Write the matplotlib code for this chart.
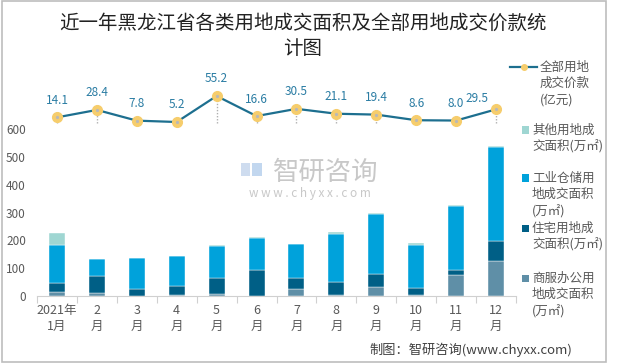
import matplotlib
matplotlib.use("Agg")
import matplotlib.pyplot as plt
import numpy as np
from matplotlib.patches import Rectangle
from matplotlib.lines import Line2D

plt.rcParams['font.family'] = ['Noto Sans CJK SC', 'DejaVu Sans']

# ---- data ----
months = ["2021年\n1月", "2\n月", "3\n月", "4\n月", "5\n月", "6\n月",
          "7\n月", "8\n月", "9\n月", "10\n月", "11\n月", "12\n月"]
price = [14.1, 28.4, 7.8, 5.2, 55.2, 16.6, 30.5, 21.1, 19.4, 8.6, 8.0, 29.5]
commercial = [14, 12, 1, 5, 7, 0, 25, 3, 32, 3, 77, 126]
residential = [32, 59, 24, 30, 58, 95, 40, 49, 47, 27, 18, 72]
industrial = [136, 62, 111, 108, 116, 115, 121, 171, 217, 155, 230, 339]
other = [46, 1, 1, 1, 1, 1, 1, 6, 4, 5, 3, 3]
yticks = [0, 100, 200, 300, 400, 500, 600]

W, H = 620, 364
def fx(px): return px / W
def fy(py): return 1 - py / H

c_other = "#9FD6D2"
c_ind = "#00A2DB"
c_res = "#005F86"
c_com = "#5F8FA7"
c_line = "#1D6F8F"
c_lab = "#2A7CA3"
c_mark = "#F6CD6C"
c_txt = "#595959"

fig = plt.figure(figsize=(W / 100, H / 100), dpi=100)

# border
fig.patches.append(Rectangle((fx(2), fy(362)), fx(606) - fx(2), fy(1) - fy(362),
                             transform=fig.transFigure, fill=False,
                             edgecolor="#BDBDBD", linewidth=1.2))

ax_l, ax_r, ax_t, ax_b = 37, 516, 80, 296
ax = fig.add_axes([fx(ax_l), fy(ax_b), fx(ax_r) - fx(ax_l), fy(ax_t) - fy(ax_b)])
ax.patch.set_alpha(0)

x = np.arange(len(months))
bw = 0.4
com = np.array(commercial, float)
res = np.array(residential, float)
ind = np.array(industrial, float)
oth = np.array(other, float)
kw = dict(width=bw, edgecolor="white", linewidth=0.3, zorder=2)
ax.bar(x, com, color=c_com, **kw)
ax.bar(x, res, bottom=com, color=c_res, **kw)
ax.bar(x, ind, bottom=com + res, color=c_ind, **kw)
ax.bar(x, oth, bottom=com + res + ind, color=c_other, **kw)

ax.set_ylim(0, (ax_b - ax_t) / 0.2778)
ax.set_xlim(-0.5, len(months) - 0.5)
ax.set_yticks(yticks)
ax.set_yticklabels([str(v) for v in yticks], fontsize=8.5, color=c_txt)
ax.tick_params(axis='y', length=0, pad=8)
ax.set_xticks(x)
ax.set_xticklabels(months, fontsize=9, color=c_txt, linespacing=1.25)
ax.tick_params(axis='x', length=0, pad=6)
ax.set_xticks(np.arange(-0.5, len(months), 1.0), minor=True)
ax.tick_params(axis='x', which='minor', length=5, color="#D0D0D0", width=0.8)
for s in ["left", "right", "top"]:
    ax.spines[s].set_visible(False)
ax.spines["bottom"].set_color("#D0D0D0")
ax.spines["bottom"].set_linewidth(0.8)

# secondary axis for price line
ax2 = ax.twinx()
ax2.set_position(ax.get_position())
a = 0.52
zero_px = 124.7
ax2.set_ylim(-(ax_b - zero_px) / a, (zero_px - ax_t) / a)
ax2.axis("off")
ax2.vlines(x, 2.7, price, colors="#B0B0B0", linestyles=(0, (1, 1.2)),
           linewidth=1.0, zorder=2)
ax2.plot(x, price, color=c_line, linewidth=1.6, zorder=3, clip_on=False)
ax2.plot(x, price, linestyle="none", marker="o", markersize=7,
         markerfacecolor=c_mark, markeredgecolor=c_mark, zorder=4, clip_on=False)
ax2.plot(x, price, linestyle="none", marker="o", markersize=1.3,
         markerfacecolor="#B8B8B8", markeredgecolor="#B8B8B8", zorder=5, clip_on=False)
offsets = [(0, 17)] * 11 + [(-19, 11)]
for xi, v, off in zip(x, price, offsets):
    ax2.annotate(f"{v:.1f}", (xi, v), xytext=off, textcoords="offset pixels",
                 ha="center", va="center", fontsize=8.5, color=c_lab,
                 annotation_clip=False)

# title
fig.text(fx(303), fy(23), "近一年黑龙江省各类用地成交面积及全部用地成交价款统",
         ha="center", va="center", fontsize=14, color="#222222")
fig.text(fx(303), fy(48), "计图", ha="center", va="center", fontsize=14, color="#222222")

# legend (manual)
lx_text = 532
fig.lines.append(Line2D([fx(510), fx(537)], [fy(67), fy(67)], transform=fig.transFigure,
                        color=c_line, linewidth=1.6))
fig.lines.append(Line2D([fx(523.5)], [fy(67)], transform=fig.transFigure, marker="o",
                        markersize=4, markerfacecolor=c_mark, markeredgecolor=c_mark,
                        linestyle="none"))
fig.text(fx(540), fy(67), "全部用地", ha="left", va="center", fontsize=9, color=c_txt)
fig.text(fx(540), fy(83.5), "成交价款", ha="left", va="center", fontsize=9, color=c_txt)
fig.text(fx(540), fy(100), "(亿元)", ha="left", va="center", fontsize=9, color=c_txt)

leg = [
    (c_other, 130, ["其他用地成", "交面积(万㎡)"]),
    (c_ind, 178, ["工业仓储用", "地成交面积", "(万㎡)"]),
    (c_res, 228, ["住宅用地成", "交面积(万㎡)"]),
    (c_com, 278, ["商服办公用", "地成交面积", "(万㎡)"]),
]
sq = 7
for col, y0, lines in leg:
    fig.patches.append(Rectangle((fx(522), fy(y0 + sq / 2)), sq / W, sq / H,
                                 transform=fig.transFigure, facecolor=col,
                                 edgecolor="none"))
    for i, t in enumerate(lines):
        fig.text(fx(lx_text), fy(y0 + i * 16.7), t, ha="left", va="center",
                 fontsize=9, color=c_txt)

# watermark
fig.patches.append(Rectangle((fx(241), fy(176)), 9 / W, 13 / H, transform=fig.transFigure,
                             facecolor="#C9D9EE", edgecolor="none", alpha=0.9))
fig.patches.append(Rectangle((fx(252), fy(176)), 10 / W, 13 / H, transform=fig.transFigure,
                             facecolor="#BCD3EE", edgecolor="none", alpha=0.9))
fig.text(fx(326), fy(172), "智研咨询", ha="center", va="center", fontsize=19,
         color="#C8C8C8")
fig.text(fx(310), fy(193), "w w w . c h y x x . c o m", ha="center", va="center",
         fontsize=8.5, color="#C8C8C8")

# source
fig.text(fx(471), fy(350), "制图：智研咨询(www.chyxx.com)", ha="center", va="center",
         fontsize=9.5, color="#404040")

fig.savefig("out.png", dpi=100)
